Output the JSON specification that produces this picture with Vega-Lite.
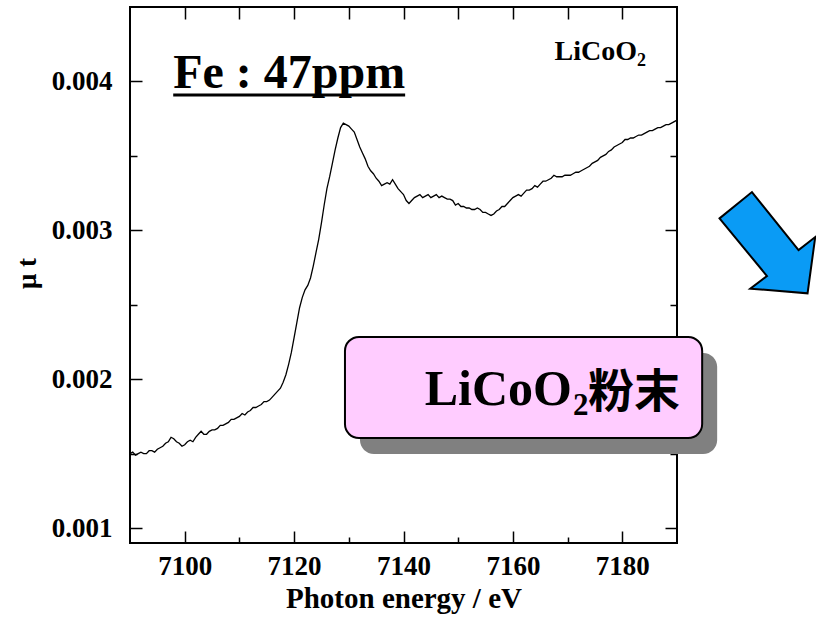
{
  "$schema": "https://vega.github.io/schema/vega-lite/v6.json",
  "autosize": {"type": "none"},
  "padding": {"left": 130, "top": 7, "right": 139, "bottom": 79},
  "width": 547,
  "height": 536,
  "background": "white",
  "config": {
    "view": {"stroke": "black", "strokeWidth": 2},
    "axis": {"grid": false, "domain": false, "labelOverlap": false, "labelFlush": false}
  },
  "datasets": {
    "spectrum": [
      {"E": 7090, "mu": 0.00150}, {"E": 7090.5, "mu": 0.00151}, {"E": 7091, "mu": 0.00149}, {"E": 7091.5, "mu": 0.00150},
      {"E": 7092, "mu": 0.00151}, {"E": 7092.5, "mu": 0.00150}, {"E": 7093, "mu": 0.00150}, {"E": 7093.5, "mu": 0.00152},
      {"E": 7094, "mu": 0.00152}, {"E": 7094.5, "mu": 0.00151}, {"E": 7095, "mu": 0.00153}, {"E": 7095.5, "mu": 0.00154},
      {"E": 7096, "mu": 0.00155}, {"E": 7096.5, "mu": 0.00157}, {"E": 7097, "mu": 0.00158}, {"E": 7097.5, "mu": 0.00161},
      {"E": 7098, "mu": 0.00160}, {"E": 7098.5, "mu": 0.00158}, {"E": 7099, "mu": 0.00157}, {"E": 7099.5, "mu": 0.00155},
      {"E": 7100, "mu": 0.00156}, {"E": 7100.5, "mu": 0.00158}, {"E": 7101, "mu": 0.00159}, {"E": 7101.5, "mu": 0.00158},
      {"E": 7102, "mu": 0.00161}, {"E": 7102.5, "mu": 0.00163}, {"E": 7103, "mu": 0.00165}, {"E": 7103.5, "mu": 0.00163},
      {"E": 7104, "mu": 0.00163}, {"E": 7104.5, "mu": 0.00165}, {"E": 7105, "mu": 0.00166}, {"E": 7105.5, "mu": 0.00166},
      {"E": 7106, "mu": 0.00167}, {"E": 7106.5, "mu": 0.00169}, {"E": 7107, "mu": 0.00169}, {"E": 7107.5, "mu": 0.00170},
      {"E": 7108, "mu": 0.00171}, {"E": 7108.5, "mu": 0.00173}, {"E": 7109, "mu": 0.00173}, {"E": 7109.5, "mu": 0.00174},
      {"E": 7110, "mu": 0.00175}, {"E": 7110.5, "mu": 0.00177}, {"E": 7111, "mu": 0.00176}, {"E": 7111.5, "mu": 0.00178},
      {"E": 7112, "mu": 0.00179}, {"E": 7112.5, "mu": 0.00181}, {"E": 7113, "mu": 0.00181}, {"E": 7113.5, "mu": 0.00182},
      {"E": 7114, "mu": 0.00183}, {"E": 7114.5, "mu": 0.00185}, {"E": 7115, "mu": 0.00185}, {"E": 7115.5, "mu": 0.00186},
      {"E": 7116, "mu": 0.00188}, {"E": 7116.5, "mu": 0.00190}, {"E": 7117, "mu": 0.00192}, {"E": 7117.5, "mu": 0.00194},
      {"E": 7118, "mu": 0.00198}, {"E": 7118.5, "mu": 0.00203}, {"E": 7119, "mu": 0.00210}, {"E": 7119.5, "mu": 0.00218},
      {"E": 7120, "mu": 0.00228}, {"E": 7120.5, "mu": 0.00238}, {"E": 7121, "mu": 0.00248}, {"E": 7121.5, "mu": 0.00255},
      {"E": 7122, "mu": 0.00260}, {"E": 7122.5, "mu": 0.00263}, {"E": 7123, "mu": 0.00268}, {"E": 7123.5, "mu": 0.00276},
      {"E": 7124, "mu": 0.00285}, {"E": 7124.5, "mu": 0.00294}, {"E": 7125, "mu": 0.00305}, {"E": 7125.5, "mu": 0.00317},
      {"E": 7126, "mu": 0.00328}, {"E": 7126.5, "mu": 0.00336}, {"E": 7127, "mu": 0.00345}, {"E": 7127.5, "mu": 0.00354},
      {"E": 7128, "mu": 0.00362}, {"E": 7128.5, "mu": 0.00369}, {"E": 7129, "mu": 0.00372}, {"E": 7129.5, "mu": 0.00371},
      {"E": 7130, "mu": 0.00370}, {"E": 7130.5, "mu": 0.00368}, {"E": 7131, "mu": 0.00366}, {"E": 7131.5, "mu": 0.00361},
      {"E": 7132, "mu": 0.00356}, {"E": 7132.5, "mu": 0.00352}, {"E": 7133, "mu": 0.00348}, {"E": 7133.5, "mu": 0.00343},
      {"E": 7134, "mu": 0.00340}, {"E": 7134.5, "mu": 0.00338}, {"E": 7135, "mu": 0.00335}, {"E": 7135.5, "mu": 0.00333},
      {"E": 7136, "mu": 0.00330}, {"E": 7136.5, "mu": 0.00331}, {"E": 7137, "mu": 0.00332}, {"E": 7137.5, "mu": 0.00331},
      {"E": 7138, "mu": 0.00334}, {"E": 7138.5, "mu": 0.00331}, {"E": 7139, "mu": 0.00328}, {"E": 7139.5, "mu": 0.00326},
      {"E": 7140, "mu": 0.00324}, {"E": 7140.5, "mu": 0.00320}, {"E": 7141, "mu": 0.00318}, {"E": 7141.5, "mu": 0.00320},
      {"E": 7142, "mu": 0.00322}, {"E": 7142.5, "mu": 0.00323}, {"E": 7143, "mu": 0.00324}, {"E": 7143.5, "mu": 0.00322},
      {"E": 7144, "mu": 0.00323}, {"E": 7144.5, "mu": 0.00324}, {"E": 7145, "mu": 0.00322}, {"E": 7145.5, "mu": 0.00323},
      {"E": 7146, "mu": 0.00324}, {"E": 7146.5, "mu": 0.00322}, {"E": 7147, "mu": 0.00323}, {"E": 7147.5, "mu": 0.00322},
      {"E": 7148, "mu": 0.00321}, {"E": 7148.5, "mu": 0.00321}, {"E": 7149, "mu": 0.00320}, {"E": 7149.5, "mu": 0.00317},
      {"E": 7150, "mu": 0.00318}, {"E": 7150.5, "mu": 0.00316}, {"E": 7151, "mu": 0.00316}, {"E": 7151.5, "mu": 0.00315},
      {"E": 7152, "mu": 0.00315}, {"E": 7152.5, "mu": 0.00314}, {"E": 7153, "mu": 0.00314}, {"E": 7153.5, "mu": 0.00315},
      {"E": 7154, "mu": 0.00314}, {"E": 7154.5, "mu": 0.00312}, {"E": 7155, "mu": 0.00312}, {"E": 7155.5, "mu": 0.00311},
      {"E": 7156, "mu": 0.00310}, {"E": 7156.5, "mu": 0.00311}, {"E": 7157, "mu": 0.00313}, {"E": 7157.5, "mu": 0.00314},
      {"E": 7158, "mu": 0.00316}, {"E": 7158.5, "mu": 0.00316}, {"E": 7159, "mu": 0.00318}, {"E": 7159.5, "mu": 0.00320},
      {"E": 7160, "mu": 0.00322}, {"E": 7160.5, "mu": 0.00323}, {"E": 7161, "mu": 0.00324}, {"E": 7161.5, "mu": 0.00323},
      {"E": 7162, "mu": 0.00325}, {"E": 7162.5, "mu": 0.00327}, {"E": 7163, "mu": 0.00327}, {"E": 7163.5, "mu": 0.00328},
      {"E": 7164, "mu": 0.00330}, {"E": 7164.5, "mu": 0.00329}, {"E": 7165, "mu": 0.00331}, {"E": 7165.5, "mu": 0.00333},
      {"E": 7166, "mu": 0.00333}, {"E": 7166.5, "mu": 0.00334}, {"E": 7167, "mu": 0.00335}, {"E": 7167.5, "mu": 0.00337},
      {"E": 7168, "mu": 0.00336}, {"E": 7168.5, "mu": 0.00336}, {"E": 7169, "mu": 0.00336}, {"E": 7169.5, "mu": 0.00337},
      {"E": 7170, "mu": 0.00337}, {"E": 7170.5, "mu": 0.00337}, {"E": 7171, "mu": 0.00338}, {"E": 7171.5, "mu": 0.00339},
      {"E": 7172, "mu": 0.00339}, {"E": 7172.5, "mu": 0.00340}, {"E": 7173, "mu": 0.00341}, {"E": 7173.5, "mu": 0.00342},
      {"E": 7174, "mu": 0.00343}, {"E": 7174.5, "mu": 0.00345}, {"E": 7175, "mu": 0.00346}, {"E": 7175.5, "mu": 0.00347},
      {"E": 7176, "mu": 0.00349}, {"E": 7176.5, "mu": 0.00350}, {"E": 7177, "mu": 0.00351}, {"E": 7177.5, "mu": 0.00353},
      {"E": 7178, "mu": 0.00354}, {"E": 7178.5, "mu": 0.00356}, {"E": 7179, "mu": 0.00357}, {"E": 7179.5, "mu": 0.00358},
      {"E": 7180, "mu": 0.00359}, {"E": 7180.5, "mu": 0.00361}, {"E": 7181, "mu": 0.00361}, {"E": 7181.5, "mu": 0.00362},
      {"E": 7182, "mu": 0.00362}, {"E": 7182.5, "mu": 0.00363}, {"E": 7183, "mu": 0.00364}, {"E": 7183.5, "mu": 0.00364},
      {"E": 7184, "mu": 0.00365}, {"E": 7184.5, "mu": 0.00366}, {"E": 7185, "mu": 0.00367}, {"E": 7185.5, "mu": 0.00367},
      {"E": 7186, "mu": 0.00368}, {"E": 7186.5, "mu": 0.00369}, {"E": 7187, "mu": 0.00369}, {"E": 7187.5, "mu": 0.00370},
      {"E": 7188, "mu": 0.00371}, {"E": 7188.5, "mu": 0.00371}, {"E": 7189, "mu": 0.00372}, {"E": 7189.5, "mu": 0.00373},
      {"E": 7190, "mu": 0.00374}
    ],
    "panel": [{"e1": 7129.3, "e2": 7194.6, "m1": 0.001605, "m2": 0.002284}],
    "underline": [{"e1": 7097.9, "e2": 7140.3, "m": 0.003909}],
    "arrow": [{"e": 7206.5, "m": 0.002916}],
    "notes": [
      {"id": "sample", "text": "Fe : 47ppm", "e": 7097.9, "m": 0.003956},
      {"id": "corner", "text": "LiCoO", "e": 7182.7, "m": 0.004144},
      {"id": "corner_sub", "text": "2", "e": 7182.7, "m": 0.004144},
      {"id": "panel", "text": "LiCoO", "e": 7170.8, "m": 0.001827},
      {"id": "panel_sub", "text": "2", "e": 7170.8, "m": 0.001827},
      {"id": "panel_kanji", "text": "粉末", "e": 7170.8, "m": 0.001827}
    ]
  },
  "resolve": {"axis": {"x": "independent", "y": "independent"}},
  "layer": [
    {
      "data": {"name": "spectrum"},
      "mark": {"type": "line", "color": "black", "strokeWidth": 1.3},
      "encoding": {
        "x": {"field": "E", "type": "quantitative",
              "scale": {"domain": [7090, 7190], "nice": false, "zero": false},
              "axis": {"orient": "bottom", "values": [7100, 7120, 7140, 7160, 7180], "format": "d",
                       "ticks": false, "labelPadding": 10,
                       "labelFont": "Liberation Serif", "labelFontWeight": "bold", "labelFontSize": 27, "labelColor": "black",
                       "title": "Photon energy / eV", "titleFont": "Liberation Serif", "titleFontWeight": "bold",
                       "titleFontSize": 29, "titleColor": "black", "titleX": 273.5, "titleY": 64,
                       "titleAlign": "center", "titleBaseline": "alphabetic"}},
        "y": {"field": "mu", "type": "quantitative",
              "scale": {"domain": [0.0009, 0.0045], "nice": false, "zero": false},
              "axis": {"orient": "left", "values": [0.001, 0.002, 0.003, 0.004], "format": ".3f",
                       "ticks": false, "labelPadding": 18,
                       "labelFont": "Liberation Serif", "labelFontWeight": "bold", "labelFontSize": 27, "labelColor": "black",
                       "title": "μ t", "titleFont": "Liberation Serif", "titleFontWeight": "bold",
                       "titleFontSize": 27, "titleColor": "black", "titleAngle": -90, "titleX": -103, "titleY": 266,
                       "titleAlign": "center", "titleBaseline": "middle"}}
      }
    },
    {
      "data": {"name": "spectrum"},
      "mark": {"type": "line", "strokeOpacity": 0},
      "encoding": {
        "x": {"field": "E", "type": "quantitative", "scale": {"domain": [7090, 7190], "nice": false, "zero": false},
              "axis": {"orient": "bottom", "values": [7100, 7120, 7140, 7160, 7180], "labels": false,
                       "ticks": true, "tickSize": -12, "tickWidth": 1.5, "tickColor": "black", "title": null}},
        "y": {"field": "mu", "type": "quantitative", "scale": {"domain": [0.0009, 0.0045], "nice": false, "zero": false},
              "axis": {"orient": "left", "values": [0.001, 0.002, 0.003, 0.004], "labels": false,
                       "ticks": true, "tickSize": -12, "tickWidth": 1.5, "tickColor": "black", "title": null}}
      }
    },
    {
      "data": {"name": "spectrum"},
      "mark": {"type": "line", "strokeOpacity": 0},
      "encoding": {
        "x": {"field": "E", "type": "quantitative", "scale": {"domain": [7090, 7190], "nice": false, "zero": false},
              "axis": {"orient": "bottom", "values": [7110, 7130, 7150, 7170], "labels": false,
                       "ticks": true, "tickSize": -6, "tickWidth": 1.5, "tickColor": "black", "title": null}},
        "y": {"field": "mu", "type": "quantitative", "scale": {"domain": [0.0009, 0.0045], "nice": false, "zero": false},
              "axis": {"orient": "left", "values": [0.0015, 0.0025, 0.0035], "labels": false,
                       "ticks": true, "tickSize": -7, "tickWidth": 1.5, "tickColor": "black", "title": null}}
      }
    },
    {
      "data": {"name": "spectrum"},
      "mark": {"type": "line", "strokeOpacity": 0},
      "encoding": {
        "x": {"field": "E", "type": "quantitative", "scale": {"domain": [7090, 7190], "nice": false, "zero": false},
              "axis": {"orient": "top", "values": [7100, 7110, 7120, 7130, 7140, 7150, 7160, 7170, 7180], "labels": false,
                       "ticks": true, "tickSize": -12, "tickWidth": 1.5, "tickColor": "black", "title": null}},
        "y": {"field": "mu", "type": "quantitative", "scale": {"domain": [0.0009, 0.0045], "nice": false, "zero": false},
              "axis": {"orient": "right", "values": [0.001, 0.002, 0.003, 0.004], "labels": false,
                       "ticks": true, "tickSize": -12, "tickWidth": 1.5, "tickColor": "black", "title": null}}
      }
    },
    {
      "data": {"name": "spectrum"},
      "mark": {"type": "line", "strokeOpacity": 0},
      "encoding": {
        "x": {"field": "E", "type": "quantitative", "scale": {"domain": [7090, 7190], "nice": false, "zero": false}, "axis": null},
        "y": {"field": "mu", "type": "quantitative", "scale": {"domain": [0.0009, 0.0045], "nice": false, "zero": false},
              "axis": {"orient": "right", "values": [0.0015, 0.0025, 0.0035], "labels": false,
                       "ticks": true, "tickSize": -7, "tickWidth": 1.5, "tickColor": "black", "title": null}}
      }
    },
    {
      "data": {"name": "underline"},
      "mark": {"type": "rule", "color": "black", "strokeWidth": 3},
      "encoding": {
        "x": {"field": "e1", "type": "quantitative", "axis": null, "scale": {"domain": [7090, 7190], "nice": false, "zero": false}},
        "x2": {"field": "e2"},
        "y": {"field": "m", "type": "quantitative", "axis": null, "scale": {"domain": [0.0009, 0.0045], "nice": false, "zero": false}}
      }
    },
    {
      "data": {"name": "panel"},
      "mark": {"type": "rect", "fill": "#808080", "cornerRadius": 14,
               "xOffset": 15, "x2Offset": 15, "yOffset": 16, "y2Offset": 16},
      "encoding": {
        "x": {"field": "e1", "type": "quantitative", "axis": null, "scale": {"domain": [7090, 7190], "nice": false, "zero": false}},
        "x2": {"field": "e2"},
        "y": {"field": "m1", "type": "quantitative", "axis": null, "scale": {"domain": [0.0009, 0.0045], "nice": false, "zero": false}},
        "y2": {"field": "m2"}
      }
    },
    {
      "data": {"name": "panel"},
      "mark": {"type": "rect", "fill": "#ffccff", "stroke": "black", "strokeWidth": 2, "cornerRadius": 14},
      "encoding": {
        "x": {"field": "e1", "type": "quantitative", "axis": null, "scale": {"domain": [7090, 7190], "nice": false, "zero": false}},
        "x2": {"field": "e2"},
        "y": {"field": "m1", "type": "quantitative", "axis": null, "scale": {"domain": [0.0009, 0.0045], "nice": false, "zero": false}},
        "y2": {"field": "m2"}
      }
    },
    {
      "data": {"name": "notes"},
      "transform": [{"filter": "datum.id === 'sample'"}],
      "mark": {"type": "text", "font": "Liberation Serif", "fontWeight": "bold", "fontSize": 48,
               "align": "left", "baseline": "alphabetic", "color": "black"},
      "encoding": {
        "x": {"field": "e", "type": "quantitative", "axis": null, "scale": {"domain": [7090, 7190], "nice": false, "zero": false}},
        "y": {"field": "m", "type": "quantitative", "axis": null, "scale": {"domain": [0.0009, 0.0045], "nice": false, "zero": false}},
        "text": {"field": "text"}
      }
    },
    {
      "data": {"name": "notes"},
      "transform": [{"filter": "datum.id === 'corner'"}],
      "mark": {"type": "text", "font": "Liberation Serif", "fontWeight": "bold", "fontSize": 28,
               "align": "right", "baseline": "alphabetic", "color": "black"},
      "encoding": {
        "x": {"field": "e", "type": "quantitative", "axis": null, "scale": {"domain": [7090, 7190], "nice": false, "zero": false}},
        "y": {"field": "m", "type": "quantitative", "axis": null, "scale": {"domain": [0.0009, 0.0045], "nice": false, "zero": false}},
        "text": {"field": "text"}
      }
    },
    {
      "data": {"name": "notes"},
      "transform": [{"filter": "datum.id === 'corner_sub'"}],
      "mark": {"type": "text", "font": "Liberation Serif", "fontWeight": "bold", "fontSize": 18,
               "align": "left", "baseline": "alphabetic", "color": "black", "dx": 0, "dy": 6},
      "encoding": {
        "x": {"field": "e", "type": "quantitative", "axis": null, "scale": {"domain": [7090, 7190], "nice": false, "zero": false}},
        "y": {"field": "m", "type": "quantitative", "axis": null, "scale": {"domain": [0.0009, 0.0045], "nice": false, "zero": false}},
        "text": {"field": "text"}
      }
    },
    {
      "data": {"name": "notes"},
      "transform": [{"filter": "datum.id === 'panel'"}],
      "mark": {"type": "text", "font": "Liberation Serif", "fontWeight": "bold", "fontSize": 50,
               "align": "right", "baseline": "alphabetic", "color": "black"},
      "encoding": {
        "x": {"field": "e", "type": "quantitative", "axis": null, "scale": {"domain": [7090, 7190], "nice": false, "zero": false}},
        "y": {"field": "m", "type": "quantitative", "axis": null, "scale": {"domain": [0.0009, 0.0045], "nice": false, "zero": false}},
        "text": {"field": "text"}
      }
    },
    {
      "data": {"name": "notes"},
      "transform": [{"filter": "datum.id === 'panel_sub'"}],
      "mark": {"type": "text", "font": "Liberation Serif", "fontWeight": "bold", "fontSize": 31,
               "align": "left", "baseline": "alphabetic", "color": "black", "dx": 1, "dy": 10},
      "encoding": {
        "x": {"field": "e", "type": "quantitative", "axis": null, "scale": {"domain": [7090, 7190], "nice": false, "zero": false}},
        "y": {"field": "m", "type": "quantitative", "axis": null, "scale": {"domain": [0.0009, 0.0045], "nice": false, "zero": false}},
        "text": {"field": "text"}
      }
    },
    {
      "data": {"name": "notes"},
      "transform": [{"filter": "datum.id === 'panel_kanji'"}],
      "mark": {"type": "text", "font": "Noto Sans CJK JP", "fontWeight": "bold", "fontSize": 46,
               "align": "left", "baseline": "alphabetic", "color": "black", "dx": 16, "dy": 2},
      "encoding": {
        "x": {"field": "e", "type": "quantitative", "axis": null, "scale": {"domain": [7090, 7190], "nice": false, "zero": false}},
        "y": {"field": "m", "type": "quantitative", "axis": null, "scale": {"domain": [0.0009, 0.0045], "nice": false, "zero": false}},
        "text": {"field": "text"}
      }
    },
    {
      "data": {"name": "arrow"},
      "mark": {"type": "point", "filled": true, "fill": "#0a9bf5", "fillOpacity": 1, "stroke": "black", "strokeWidth": 2,
               "strokeOpacity": 1, "size": 10200,
               "shape": "M -0.945 -0.485 L -0.303 -1.006 L 0.620 0.143 L 0.950 -0.115 L 0.798 1.0 L -0.337 0.907 L -0.006 0.657 Z"},
      "encoding": {
        "x": {"field": "e", "type": "quantitative", "axis": null, "scale": {"domain": [7090, 7190], "nice": false, "zero": false}},
        "y": {"field": "m", "type": "quantitative", "axis": null, "scale": {"domain": [0.0009, 0.0045], "nice": false, "zero": false}}
      }
    }
  ]
}
